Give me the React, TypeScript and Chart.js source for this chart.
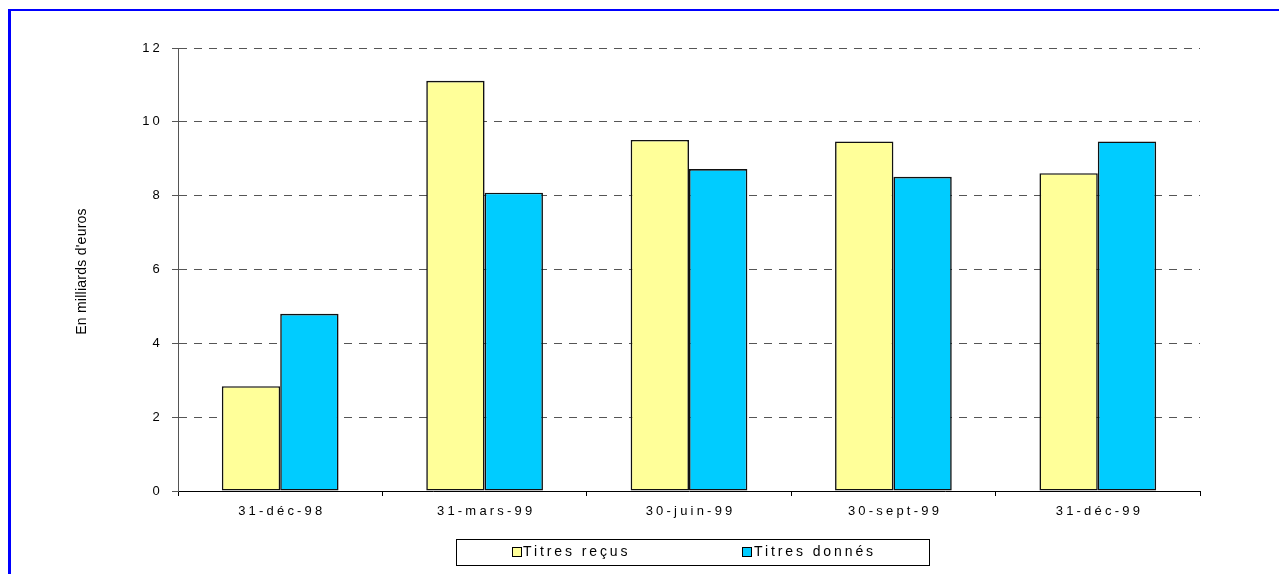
import React, { useEffect, useRef } from "react";
import { Chart, registerables } from "chart.js";

Chart.register(...registerables);

const categories = ["31-déc-98", "31-mars-99", "30-juin-99", "30-sept-99", "31-déc-99"];
const titresRecus = [2.84, 11.11, 9.51, 9.47, 8.61];
const titresDonnes = [4.8, 8.08, 8.72, 8.51, 9.47];
const seriesLabels = ["Titres reçus", "Titres donnés"];
const seriesColors = ["#FFFF99", "#00CCFF"];
const yMin = 0;
const yMax = 12;
const yStep = 2;
const yAxisTitle = "En milliards d'euros";

const FONT = "'Liberation Sans', Arial, sans-serif";

const spacingPlugin = {
  id: "spacing",
  beforeUpdate(chart: any) {
    chart.ctx.letterSpacing = "3.2px";
  },
  beforeDraw(chart: any) {
    chart.ctx.letterSpacing = "3.2px";
  },
  afterDraw(chart: any) {
    const ctx = chart.ctx as CanvasRenderingContext2D;
    // y axis title
    ctx.save();
    (ctx as any).letterSpacing = "0.25px";
    ctx.font = `14px ${FONT}`;
    ctx.fillStyle = "#000";
    ctx.textAlign = "center";
    ctx.textBaseline = "middle";
    ctx.translate(82, 271.5);
    ctx.rotate(-Math.PI / 2);
    ctx.fillText(yAxisTitle, 0, 0);
    ctx.restore();

    // legend
    ctx.save();
    ctx.lineWidth = 1;
    ctx.strokeStyle = "#000";
    ctx.strokeRect(456.5, 539.5, 473, 26);
    const swatchX = [512, 742];
    const textX = [523, 754];
    ctx.font = `14px ${FONT}`;
    (ctx as any).letterSpacing = "2.9px";
    ctx.textAlign = "left";
    ctx.textBaseline = "middle";
    chart.data.datasets.forEach((ds: any, i: number) => {
      ctx.fillStyle = ds.backgroundColor;
      ctx.fillRect(swatchX[i], 547, 9, 9);
      ctx.strokeStyle = "#000";
      ctx.strokeRect(swatchX[i] + 0.5, 547.5, 9, 9);
      ctx.fillStyle = "#000";
      ctx.fillText(ds.label, textX[i], 552);
    });
    ctx.restore();
  },
};

export default function App() {
  const canvasRef = useRef<HTMLCanvasElement | null>(null);

  useEffect(() => {
    document.body.style.margin = "0";
    const canvas = canvasRef.current!;
    const chart = new Chart(canvas, {
      type: "bar",
      data: {
        labels: categories,
        datasets: [
          {
            label: seriesLabels[0],
            data: titresRecus,
            backgroundColor: seriesColors[0],
            borderColor: "#111",
            borderWidth: 1.6,
            borderSkipped: false,
          },
          {
            label: seriesLabels[1],
            data: titresDonnes,
            backgroundColor: seriesColors[1],
            borderColor: "#111",
            borderWidth: 1.6,
            borderSkipped: false,
          },
        ],
      },
      options: {
        responsive: false,
        animation: false,
        devicePixelRatio: 1,
        datasets: {
          bar: { categoryPercentage: 0.571, barPercentage: 1 },
        },
        layout: { padding: { left: 0, top: 48, right: 79, bottom: 0 } },
        plugins: {
          legend: { display: false },
          tooltip: { enabled: false },
          title: { display: false },
        },
        font: { family: FONT },
        scales: {
          x: {
            type: "category",
            offset: true,
            grid: {
              display: true,
              offset: true,
              drawOnChartArea: false,
              drawTicks: true,
              tickLength: 5,
              tickColor: "#000",
            },
            border: { display: true, color: "#000", width: 1 },
            ticks: {
              color: "#000",
              font: { family: FONT, size: 13 },
              padding: 7.7,
              maxRotation: 0,
              autoSkip: false,
              labelOffset: 1.6,
            },
            afterFit: (s: any) => {
              s.height = 83;
            },
          },
          y: {
            type: "linear",
            min: yMin,
            max: yMax,
            position: "left",
            grid: {
              display: true,
              color: (c: any) => (c.tick && c.tick.value === 0 ? "rgba(0,0,0,0)" : "#555"),
              lineWidth: 1,
              drawTicks: true,
              tickLength: 6,
              tickColor: "#555",
              tickBorderDash: [],
            },
            border: { display: true, color: "#555", width: 1, dash: [8, 7] },
            ticks: {
              stepSize: yStep,
              color: "#000",
              font: { family: FONT, size: 13 },
              padding: 9,
            },
            afterFit: (s: any) => {
              s.width = 178;
            },
          },
        },
      } as any,
      plugins: [spacingPlugin],
    });
    return () => chart.destroy();
  }, []);

  return (
    <div style={{ position: "relative", width: 1279, height: 574, overflow: "hidden", background: "#fff" }}>
      <div
        style={{
          position: "absolute",
          left: 8,
          top: 9,
          width: 1271,
          height: 565,
          boxSizing: "border-box",
          borderTop: "2px solid #0000FF",
          borderLeft: "3px solid #0000FF",
        }}
      />
      <canvas
        ref={canvasRef}
        width={1279}
        height={574}
        style={{ position: "absolute", left: 0, top: 0, width: 1279, height: 574 }}
      />
    </div>
  );
}
